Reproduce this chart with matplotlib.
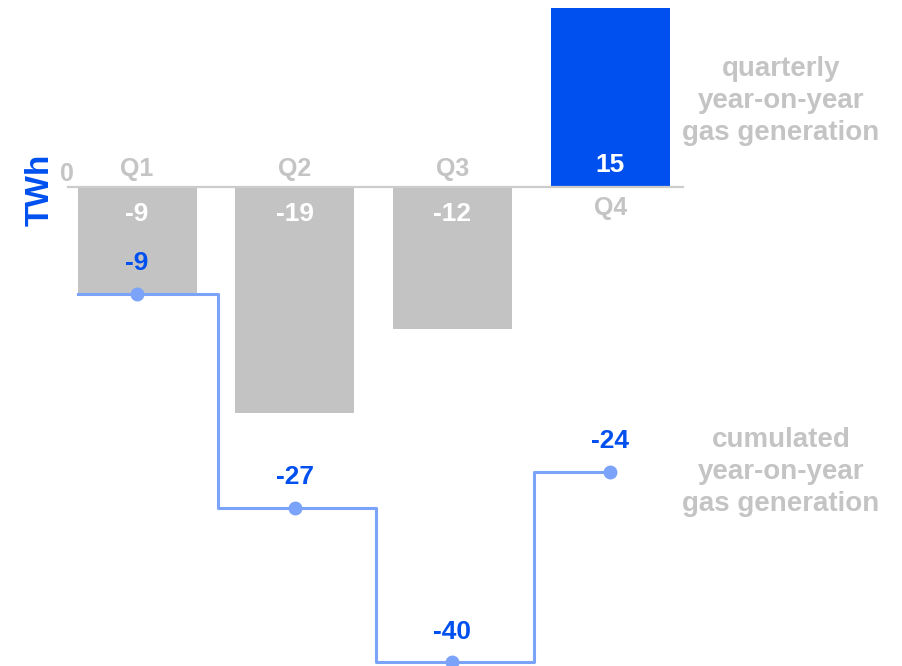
import numpy as np
import matplotlib.pyplot as plt

quarters = ['Q1', 'Q2', 'Q3', 'Q4']
quarterly = [-9, -19, -12, 15]
cumulated = [-9, -27, -40, -24]

grey = '#c3c3c3'
txt_grey = '#c4c4c4'
blue = '#0050ef'
line_blue = '#7ba3f9'

plt.rcParams['font.family'] = ['Liberation Sans', 'DejaVu Sans']
plt.rcParams['font.weight'] = 'bold'

fig = plt.figure(figsize=(9.03, 6.66), dpi=100)
ax = fig.add_axes([0, 0, 1, 1])
ax.axis('off')
ax.set_xlim(-0.869, 4.857)
ax.set_ylim(-40.3, 15.7)

x = np.arange(len(quarters))
colors = [grey if v < 0 else blue for v in quarterly]
ax.bar(x, quarterly, width=0.755, color=colors, zorder=2)
ax.plot([-0.437, 3.46], [0, 0], color='#cccccc', lw=1.6, zorder=3)

# step line for cumulated values, steps a bit right of the gaps
sx = np.concatenate([[-0.375], x + 0.015])
sy = np.concatenate([[cumulated[0]], cumulated])
ax.step(sx, sy, where='mid', color=line_blue, lw=2.2, zorder=4)
ax.plot(x, cumulated, 'o', color=line_blue, ms=9, zorder=5)

for i, (q, v, c) in enumerate(zip(quarters, quarterly, cumulated)):
    if v < 0:
        ax.text(i, 1.5, q, ha='center', va='center', color=txt_grey, fontsize=18)
        ax.text(i, -2.3, str(v), ha='center', va='center', color='white', fontsize=19)
    else:
        ax.text(i, -1.8, q, ha='center', va='center', color=txt_grey, fontsize=18)
        ax.text(i, 1.8, str(v), ha='center', va='center', color='white', fontsize=19)
    ax.text(i, c + 2.6, str(c), ha='center', va='center', color=blue, fontsize=19)

ax.text(-0.443, 1.05, '0', ha='center', va='center', color=txt_grey, fontsize=18)
ax.text(-0.615, -0.3, 'TWh', ha='center', va='center', color=blue, fontsize=24,
        rotation=90)

ax.text(4.083, 7.2, 'quarterly\nyear-on-year\ngas generation', ha='center',
        va='center', color=txt_grey, fontsize=20, linespacing=1.3)
ax.text(4.083, -24.0, 'cumulated\nyear-on-year\ngas generation', ha='center',
        va='center', color=txt_grey, fontsize=20, linespacing=1.3)

plt.savefig('out.png', dpi=100)
